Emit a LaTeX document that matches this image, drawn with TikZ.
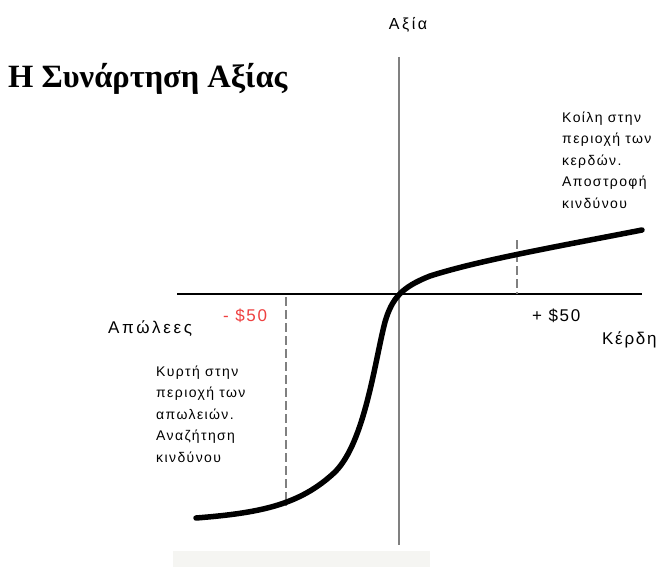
\documentclass[tikz,border=0pt]{standalone}
\usepackage{fontspec}
\setmainfont{Liberation Serif}
\newfontfamily\lab[LetterSpace=10]{Liberation Sans}
\newfontfamily\labw[LetterSpace=16]{Liberation Sans}
\definecolor{axgray}{RGB}{128,128,128}
\definecolor{lossred}{RGB}{238,64,64}
\definecolor{band}{RGB}{245,245,242}
\tikzset{
  lbl/.style={inner sep=0pt, font=\lab\fontsize{17}{20}\selectfont},
  blk/.style={inner sep=0pt, align=left, font=\lab\fontsize{14}{21.5}\selectfont},
  guide/.style={draw=axgray, line width=2.8pt, dash pattern=on 9pt off 4pt},
}
\begin{document}
\begin{tikzpicture}[x=1pt,y=-1pt]
\useasboundingbox (0,0) rectangle (659,567);
\fill[band] (173,551) rectangle (430,567);
% title
\node[anchor=west, inner sep=0pt, font=\bfseries\fontsize{32.5}{34}\selectfont] (title) at (8,79) {Η Συνάρτηση Αξίας};
% axes
\coordinate (vt) at (399,57);
\coordinate (vb) at (399,545);
\coordinate (hl) at (177,294);
\coordinate (hr) at (642,294);
\draw[axgray, line width=2.6pt] (vt) -- (vb);
\draw[black, line width=2pt] (hl) -- (hr);
% guides
\coordinate (g1t) at (286,297);
\coordinate (g1b) at (286,506);
\coordinate (g2t) at (517,240);
\coordinate (g2b) at (517,294);
\draw[guide] (g1t) -- (g1b);
\draw[guide] (g2t) -- (g2b);
% value curve
\draw[black, line width=5.5pt, line cap=round]
  (196,518) .. controls (260,513) and (300,505) .. (335,472)
            .. controls (365,442) and (375,360) .. (385,322)
            .. controls (392,298) and (402,287) .. (430,276)
            .. controls (480,260) and (560,246) .. (642,230);
% labels
\node[lbl, anchor=center, font=\labw\fontsize{16}{18}\selectfont] (axia) at (408,25) {Αξία};
\node[lbl, anchor=west, font=\labw\fontsize{17}{20}\selectfont] (losses) at (108,329) {Απώλεες};
\node[lbl, anchor=west] (gains) at (602,340) {Κέρδη};
\node[lbl, anchor=west, text=lossred] (m50) at (223,316) {- \$50};
\node[lbl, anchor=west] (p50) at (532,316) {+ \$50};
\node[blk, anchor=west] (concave) at (562,160) {Κοίλη στην\\περιοχή των\\κερδών.\\Αποστροφή\\κινδύνου};
\node[blk, anchor=west] (convex) at (156,414) {Κυρτή στην\\περιοχή των\\απωλειών.\\Αναζήτηση\\κινδύνου};
\end{tikzpicture}
\end{document}
